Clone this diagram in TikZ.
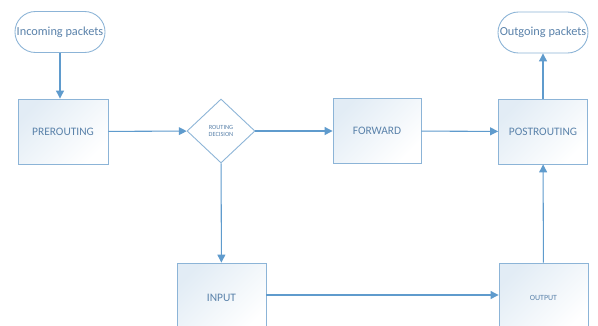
\documentclass[tikz,border=0pt]{standalone}
\usepackage{fontspec}
\setmainfont{Carlito}
\usepackage{xcolor}
\usepackage{tikz}
\usetikzlibrary{arrows.meta,shapes,calc,positioning}

\definecolor{lineblue}{RGB}{95,155,205}
\definecolor{edgeblue}{RGB}{140,180,215}
\definecolor{textblue}{RGB}{90,130,170}

\begin{document}
\begin{tikzpicture}[x=0.02cm,y=-0.02cm,
  box/.style={draw=edgeblue, line width=0.5pt, minimum width=1.8cm, minimum height=1.3cm,
    top color=edgeblue!25, bottom color=white, shading angle=45, text=textblue, font=\fontsize{6.5}{7}\selectfont},
  pill/.style={draw=edgeblue, line width=0.5pt, rounded corners=0.41cm, minimum width=1.76cm, minimum height=0.82cm,
    fill=white, text=textblue, font=\fontsize{7}{8}\selectfont, inner sep=1pt},
  decision/.style={draw=edgeblue, line width=0.5pt, diamond, aspect=1.06, minimum width=1.36cm, minimum height=1.28cm,
    inner sep=0pt, fill=white, text=textblue, align=center, font=\fontsize{3.6}{4.4}\selectfont},
  flow/.style={draw=lineblue, line width=0.6pt, -{Triangle[width=4.5pt,length=4.5pt]}}]

\clip (0,0) rectangle (598,325);
\fill[white] (0,0) rectangle (598,325);

% top row
\node[pill](incoming) at (60,32) {Incoming packets};
\node[box](prerouting) at (63,131.5) {PREROUTING};
\node[decision](routing) at (221,131) {ROUTING\\DECISION};
\node[box, minimum width=1.76cm](forward) at (377,131) {FORWARD};
\node[box, minimum width=1.78cm](postrouting) at (543,131.5) {POSTROUTING};
\node[pill](outgoing) at (543,32.5) {Outgoing packets};

% bottom row (cut by the page edge)
\node[box, minimum width=1.78cm, minimum height=1.4cm](input) at (221.5,298) {INPUT};
\node[box, minimum width=1.78cm, minimum height=1.4cm, font=\fontsize{4.5}{5}\selectfont](output) at (543.5,298) {OUTPUT};

\draw[flow] (incoming) -- (incoming |- prerouting.north);
\draw[flow] (prerouting) -- (routing);
\draw[flow] (routing) -- (forward);
\draw[flow] (forward) -- (postrouting);
\draw[flow] (postrouting) -- (outgoing);
\draw[flow] (routing) -- (input);
\draw[flow] (input.east |- 0,295) -- (output.west |- 0,295);
\draw[flow] (output) -- (postrouting);
\end{tikzpicture}
\end{document}
